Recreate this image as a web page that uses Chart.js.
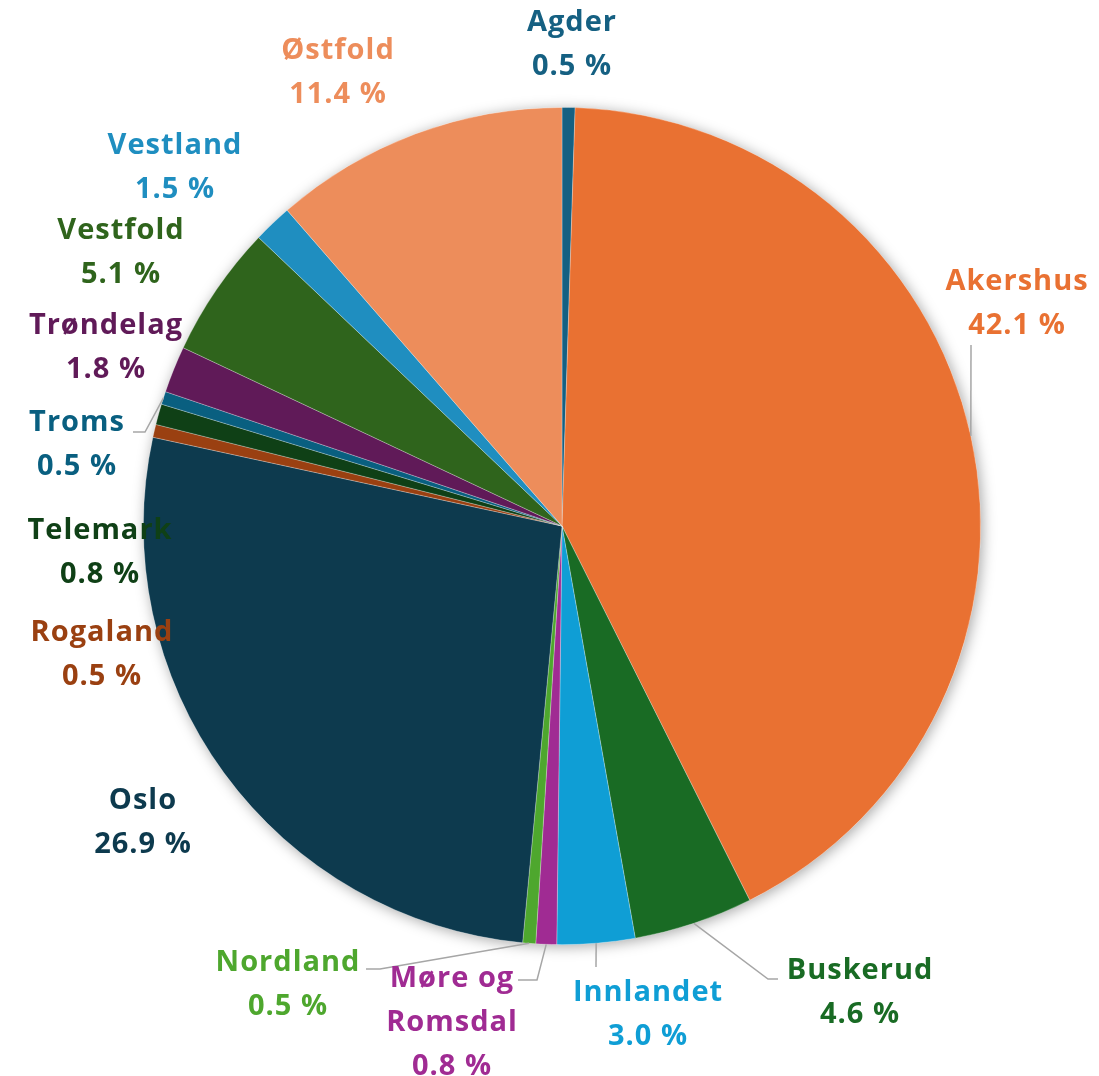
<!DOCTYPE html>
<html>
<head>
<meta charset="utf-8">
<script src="https://cdn.jsdelivr.net/npm/chart.js@4/dist/chart.umd.min.js"></script>
<style>
  html, body { margin: 0; padding: 0; background: #fff; }
  #wrap { width: 1099px; height: 1076px; position: relative; }
</style>
</head>
<body>
<div id="wrap"><canvas id="pieChart"></canvas></div>
<script>
// data, clockwise from 12 o'clock
const regions = ['Agder', 'Akershus', 'Buskerud', 'Innlandet', 'Møre og Romsdal', 'Nordland', 'Oslo',
  'Rogaland', 'Telemark', 'Troms', 'Trøndelag', 'Vestfold', 'Vestland', 'Østfold'];
const shares = [0.5, 42.1, 4.6, 3.0, 0.8, 0.5, 26.9, 0.5, 0.8, 0.5, 1.8, 5.1, 1.5, 11.4];
const sliceColors = ['#156082', '#E97132', '#196B24', '#0F9ED5', '#A02B93', '#4EA72E', '#0D3A4E',
  '#9A4011', '#0F4016', '#095F80', '#601A58', '#2F641C', '#1F8EC0', '#ED8D5B'];

// label layout: where each label sits (centre of first line)
const labelLayout = {
  'Agder':           { x: 572, y: 23 },
  'Akershus':        { x: 1017, y: 282 },
  'Buskerud':        { x: 860, y: 971 },
  'Innlandet':       { x: 648, y: 993 },
  'Møre og Romsdal': { x: 452, y: 979, lines: ['Møre og', 'Romsdal'] },
  'Nordland':        { x: 288, y: 963 },
  'Oslo':            { x: 143, y: 801 },
  'Rogaland':        { x: 102, y: 633 },
  'Telemark':        { x: 100, y: 531 },
  'Troms':           { x: 77, y: 423 },
  'Trøndelag':       { x: 106, y: 326 },
  'Vestfold':        { x: 121, y: 231 },
  'Vestland':        { x: 175, y: 146 },
  'Østfold':         { x: 338, y: 51 }
};
// leader lines: elbow and end near the label; the start is the slice edge
const leaders = {
  'Akershus':        [[971, 345]],
  'Buskerud':        [[768, 979], [778, 979]],
  'Innlandet':       [[596, 967]],
  'Møre og Romsdal': [[537, 980], [518, 980]],
  'Nordland':        [[380, 969], [366, 969]],
  'Troms':           [[145, 432], [133, 432]]
};

const shadowPlugin = {
  id: 'pieShadow',
  beforeDatasetsDraw(chart) {
    const arc = chart.getDatasetMeta(0).data[0];
    if (!arc) return;
    const ctx = chart.ctx;
    ctx.save();
    ctx.shadowColor = 'rgba(0,0,0,0.35)';
    ctx.shadowBlur = 14;
    ctx.shadowOffsetX = 2;
    ctx.shadowOffsetY = 2;
    ctx.fillStyle = '#ffffff';
    ctx.beginPath();
    ctx.arc(arc.x, arc.y, arc.outerRadius, 0, Math.PI * 2);
    ctx.fill();
    ctx.restore();
  }
};

const labelPlugin = {
  id: 'sliceLabels',
  afterDatasetsDraw(chart) {
    const ctx = chart.ctx;
    const meta = chart.getDatasetMeta(0);
    ctx.save();
    // leader lines first
    ctx.strokeStyle = '#A6A6A6';
    ctx.lineWidth = 1.5;
    meta.data.forEach((arc, i) => {
      const pts = leaders[regions[i]];
      if (!pts) return;
      const mid = (arc.startAngle + arc.endAngle) / 2;
      ctx.beginPath();
      ctx.moveTo(arc.x + Math.cos(mid) * arc.outerRadius, arc.y + Math.sin(mid) * arc.outerRadius);
      pts.forEach(p => ctx.lineTo(p[0], p[1]));
      ctx.stroke();
    });
    ctx.font = 'bold 29px "Open Sans"';
    ctx.letterSpacing = '1px';
    ctx.textAlign = 'center';
    ctx.textBaseline = 'middle';
    regions.forEach((name, i) => {
      const lay = labelLayout[name];
      const lines = (lay.lines || [name]).concat([shares[i].toFixed(1) + ' %']);
      ctx.fillStyle = sliceColors[i];
      lines.forEach((t, k) => ctx.fillText(t, lay.x, lay.y + k * 44));
    });
    ctx.restore();
  }
};

new Chart(document.getElementById('pieChart'), {
  type: 'pie',
  data: {
    labels: regions,
    datasets: [{
      data: shares,
      backgroundColor: sliceColors,
      borderColor: 'rgba(255,255,255,0.35)',
      borderWidth: 0.75
    }]
  },
  options: {
    responsive: true,
    maintainAspectRatio: false,
    animation: false,
    layout: { padding: { left: 143, right: 118, top: 107, bottom: 131 } },
    plugins: {
      legend: { display: false },
      tooltip: { enabled: false }
    }
  },
  plugins: [shadowPlugin, labelPlugin]
});
</script>
</body>
</html>
